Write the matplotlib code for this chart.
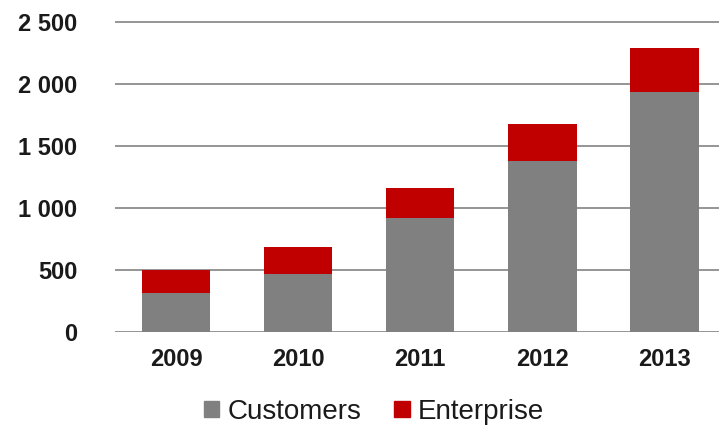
import matplotlib
matplotlib.use("Agg")
import matplotlib.pyplot as plt
from matplotlib.patches import Patch

plt.rcParams["font.family"] = ["Liberation Sans", "DejaVu Sans"]

years = ["2009", "2010", "2011", "2012", "2013"]
customers = [314, 463, 914, 1379, 1935]
enterprise = [181, 218, 247, 293, 350]
y_ticks = [0, 500, 1000, 1500, 2000, 2500]
y_tick_labels = ["0", "500", "1 000", "1 500", "2 000", "2 500"]

GREY = "#808080"
RED = "#C00000"

fig = plt.figure(figsize=(7.19, 4.26), dpi=100)
ax = fig.add_axes([0.160, 0.2214, 0.849, 0.7335])

x = range(len(years))
ax.bar(x, customers, width=0.56, color=GREY, zorder=3)
ax.bar(x, enterprise, width=0.56, bottom=customers, color=RED, zorder=3)

ax.set_xlim(-0.5, len(years) - 0.5)
ax.set_ylim(0, 2520)
ax.set_yticks(y_ticks)
ax.set_yticklabels(y_tick_labels, fontsize=17, fontweight="bold", color="#1a1a1a")
ax.set_xticks(list(x))
ax.set_xticklabels(years, fontsize=17, fontweight="bold", color="#1a1a1a")
ax.tick_params(axis="y", length=0, pad=27)
ax.tick_params(axis="x", length=0, pad=12)

for s in ax.spines.values():
    s.set_visible(False)
ax.yaxis.grid(True, color="#8c8c8c", linewidth=1.3, zorder=0)
ax.set_axisbelow(True)

handles = [Patch(color=GREY, label="Customers"), Patch(color=RED, label="Enterprise")]
fig.legend(handles=handles, loc="center", bbox_to_anchor=(0.52, 0.033), ncol=2,
           frameon=False, fontsize=20, handlelength=0.55, handleheight=0.55,
           handletextpad=0.3, columnspacing=1.2, labelcolor="#1a1a1a")

fig.savefig("out.png", dpi=100)
